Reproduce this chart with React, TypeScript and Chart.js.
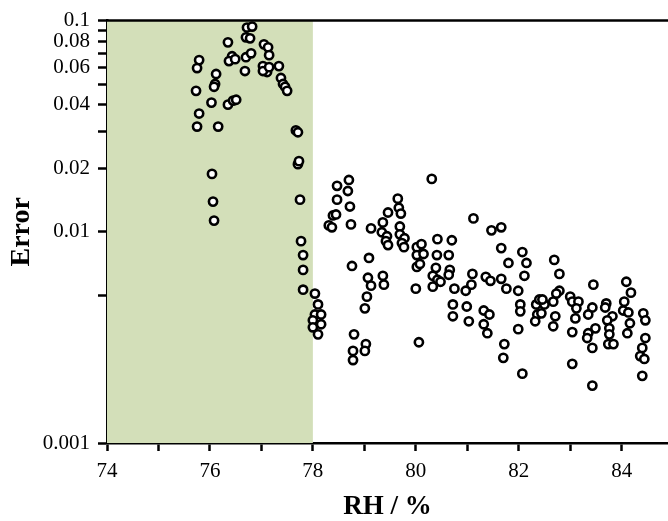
import React, { useEffect, useRef } from "react";
import { Chart, registerables } from "chart.js";

Chart.register(...registerables);

// Relative humidity (%) of each measurement
const rhValues: number[] = [
  75.79, 75.75, 75.73, 75.79, 75.75, 76.12, 76.10, 76.08, 76.03, 76.16,
  76.04, 76.06, 76.08, 76.35, 76.43, 76.37, 76.49, 76.35, 76.45, 76.51,
  76.72, 76.82, 76.70, 76.78, 76.70, 76.80, 76.68, 77.05, 77.13, 77.15,
  77.03, 77.11, 77.03, 77.15, 77.34, 77.38, 77.42, 77.46, 77.50, 77.67,
  77.71, 77.71, 77.73, 77.75, 77.77, 77.81, 77.81, 77.81,
  78.04, 78.10, 78.04, 78.16, 78.00, 78.16, 78.00, 78.10,
  78.47, 78.70, 78.68, 78.47, 78.72, 78.39, 78.45, 78.31, 78.37, 78.74,
  78.76, 78.80, 78.78, 78.78,
  79.13, 79.09, 79.07, 79.13, 79.05, 79.01, 79.03, 79.01,
  79.36, 79.46, 79.34, 79.44, 79.42, 79.46, 79.36, 79.38,
  79.65, 79.67, 79.71, 79.69, 79.69, 79.78, 79.73, 79.77,
  80.02, 80.11, 80.02, 80.15, 80.02, 80.08, 80.00, 80.06, 80.31,
  80.42, 80.41, 80.39, 80.33, 80.42, 80.33,
  80.70, 80.64, 80.66, 80.64, 80.75, 80.48, 80.72, 80.72,
  81.12, 81.10, 81.08, 80.97, 80.99, 81.03,
  81.47, 81.36, 81.45, 81.32, 81.43, 81.32, 81.39,
  81.66, 81.66, 81.80, 81.66, 81.76, 81.72, 81.70,
  82.07, 82.15, 82.11, 81.99, 82.03, 82.03, 81.99, 82.07,
  82.34, 82.40, 82.36, 82.32, 82.50, 82.46, 82.44,
  82.69, 82.79, 82.79, 82.73, 82.67, 82.71, 82.67,
  83.00, 83.04, 83.16, 83.12, 83.10, 83.04, 83.04,
  83.45, 83.43, 83.35, 83.49, 83.35, 83.33, 83.43, 83.43,
  83.70, 83.68, 83.82, 83.72, 83.76, 83.76, 83.74, 83.84,
  84.09, 84.18, 84.05, 84.03, 84.13, 84.16, 84.11,
  84.42, 84.46, 84.46, 84.40, 84.36, 84.44, 84.40,
];

// Error of each measurement (same order as rhValues)
const errorValues: number[] = [
  0.0650, 0.0596, 0.0465, 0.0363, 0.0315, 0.0559, 0.0501, 0.0486, 0.0409, 0.0315,
  0.0188, 0.0139, 0.0113, 0.0789, 0.0678, 0.0643, 0.0657, 0.0400, 0.0418, 0.0422,
  0.0927, 0.0937, 0.0833, 0.0824, 0.0671, 0.0700, 0.0577, 0.0772, 0.0747, 0.0686,
  0.0609, 0.0571, 0.0577, 0.0602, 0.0609, 0.0535, 0.0501, 0.0486, 0.0465, 0.0302,
  0.0296, 0.0209, 0.0216, 0.0142, 0.00903, 0.00776, 0.0066, 0.00532,
  0.0051, 0.00453, 0.00406, 0.00406, 0.00381, 0.00365, 0.00353, 0.00327,
  0.0165, 0.0176, 0.0156, 0.0142, 0.01317, 0.01195, 0.01208, 0.01072, 0.0105, 0.01084,
  0.00689, 0.00327, 0.00273, 0.00247,
  0.01038, 0.00752, 0.00606, 0.00556, 0.00493, 0.00434, 0.00294, 0.00273,
  0.01108, 0.01234, 0.00995, 0.00953, 0.00903, 0.00865, 0.00619, 0.00562,
  0.01435, 0.0130, 0.0122, 0.0106, 0.00973, 0.00932, 0.00884, 0.00846,
  0.00846, 0.00874, 0.00776, 0.00785, 0.00682, 0.00704, 0.00538, 0.0030, 0.0178,
  0.00923, 0.00776, 0.00675, 0.00619, 0.00593, 0.0055,
  0.00912, 0.00776, 0.0066, 0.00626, 0.00538, 0.0058, 0.00453, 0.00398,
  0.01157, 0.00632, 0.00562, 0.00526, 0.00443, 0.00377,
  0.01016, 0.00612, 0.00586, 0.00424, 0.00406, 0.00365, 0.00331,
  0.0105, 0.00837, 0.00712, 0.00599, 0.00538, 0.00294, 0.00253,
  0.00802, 0.00712, 0.00619, 0.00526, 0.00453, 0.0042, 0.00346, 0.00213,
  0.00453, 0.00478, 0.00406, 0.00377, 0.00453, 0.00478, 0.00411,
  0.00736, 0.00632, 0.00526, 0.0051, 0.00467, 0.00398, 0.00357,
  0.00493, 0.00467, 0.00467, 0.00434, 0.00389, 0.00335, 0.00237,
  0.00562, 0.00438, 0.00406, 0.00349, 0.00331, 0.00314, 0.00282, 0.00187,
  0.00458, 0.00438, 0.00398, 0.00381, 0.00349, 0.00327, 0.00294, 0.00294,
  0.0058, 0.00515, 0.00467, 0.00424, 0.00415, 0.00369, 0.00331,
  0.00411, 0.00381, 0.00314, 0.00282, 0.00258, 0.0025, 0.00208,
];

const xMin = 74;
const xMax = 84.9;
const xTickValues: number[] = [74, 75, 76, 77, 78, 79, 80, 81, 82, 83, 84];
const xTickLabels: string[] = ["74", "", "76", "", "78", "", "80", "", "82", "", "84"];

const yMin = 0.001;
const yMax = 0.1;
const yTickValues: number[] = [0.001, 0.005, 0.01, 0.02, 0.03, 0.04, 0.05, 0.06, 0.07, 0.08, 0.09, 0.1];
const yTickLabels: string[] = ["0.001", "", "0.01", "0.02", "", "0.04", "", "0.06", "", "0.08", "", "0.1"];

const shadedRange: number[] = [74, 78];

const SERIF = "'Liberation Serif', 'DejaVu Serif', serif";

const shadePlugin = {
  id: "shade",
  beforeDatasetsDraw(chart: any) {
    const { ctx, chartArea, scales } = chart;
    const x0 = scales.x.getPixelForValue(shadedRange[0]);
    const x1 = scales.x.getPixelForValue(shadedRange[1]);
    ctx.save();
    ctx.fillStyle = "#d3dfb9";
    ctx.fillRect(x0, chartArea.top, x1 - x0, chartArea.bottom - chartArea.top);
    ctx.restore();
  },
  afterDraw(chart: any) {
    const { ctx, chartArea } = chart;
    ctx.save();
    ctx.strokeStyle = "#000";
    ctx.lineWidth = 2.5;
    ctx.beginPath();
    ctx.moveTo(chartArea.left - 1, chartArea.top);
    ctx.lineTo(chartArea.right + 10, chartArea.top);
    ctx.stroke();
    ctx.restore();
  },
};

export default function App() {
  const canvasRef = useRef<HTMLCanvasElement | null>(null);

  useEffect(() => {
    if (!canvasRef.current) return;
    const points = rhValues.map((x, i) => ({ x, y: errorValues[i] }));
    const chart = new Chart(canvasRef.current, {
      type: "scatter",
      data: {
        datasets: [
          {
            data: points,
            pointRadius: 4.1,
            pointBorderWidth: 2.6,
            pointBorderColor: "#000",
            pointBackgroundColor: "#fff",
            pointHoverRadius: 4.1,
          },
        ],
      },
      plugins: [shadePlugin],
      options: {
        animation: false,
        responsive: false,
        maintainAspectRatio: false,
        layout: { autoPadding: false, padding: { top: 16, right: 0, bottom: 0, left: 0 } },
        plugins: {
          legend: { display: false },
          tooltip: { enabled: false },
        },
        scales: {
          x: {
            type: "linear",
            min: xMin,
            max: xMax,
            afterBuildTicks(scale: any) {
              scale.ticks = xTickValues.map((v) => ({ value: v }));
            },
            afterFit(scale: any) {
              scale.height = 78;
              scale.paddingRight = 0;
              scale.paddingLeft = 0;
            },
            ticks: {
              autoSkip: false,
              maxRotation: 0,
              padding: 8,
              color: "#000",
              font: { family: SERIF, size: 21 },
              callback: (value: any) => {
                const i = xTickValues.indexOf(Number(value));
                return i >= 0 ? xTickLabels[i] : "";
              },
            },
            grid: {
              display: true,
              drawOnChartArea: false,
              drawTicks: true,
              tickLength: 8,
              tickWidth: 2.5,
              tickColor: "#000",
            },
            border: { display: true, color: "#000", width: 2.5 },
            title: {
              display: true,
              text: "RH / %",
              color: "#000",
              font: { family: SERIF, size: 27, weight: "bold", lineHeight: 1 },
              padding: { top: 0, bottom: 0 },
            },
          },
          y: {
            type: "logarithmic",
            min: yMin,
            max: yMax,
            afterBuildTicks(scale: any) {
              scale.ticks = yTickValues.map((v) => ({ value: v, major: false }));
            },
            afterFit(scale: any) {
              scale.width = 107;
            },
            ticks: {
              autoSkip: false,
              padding: 8,
              color: "#000",
              font: { family: SERIF, size: 21 },
              callback: (value: any) => {
                const v = Number(value);
                const i = yTickValues.findIndex((t) => Math.abs(t - v) / t < 1e-6);
                return i >= 0 ? yTickLabels[i] : "";
              },
            },
            grid: {
              display: true,
              drawOnChartArea: false,
              drawTicks: true,
              tickLength: 9,
              tickWidth: 2.5,
              tickColor: "#000",
            },
            border: { display: true, color: "#000", width: 2.5 },
            title: {
              display: true,
              text: "Error",
              color: "#000",
              font: { family: SERIF, size: 28, weight: "bold", lineHeight: 1 },
              padding: { top: 8, bottom: 0 },
            },
          },
        },
      },
    });
    return () => chart.destroy();
  }, []);

  return (
    <div style={{ position: "absolute", left: 0, top: 0, width: 668, height: 521, background: "#fff" }}>
      <canvas ref={canvasRef} width={668} height={521} style={{ display: "block" }} />
    </div>
  );
}
